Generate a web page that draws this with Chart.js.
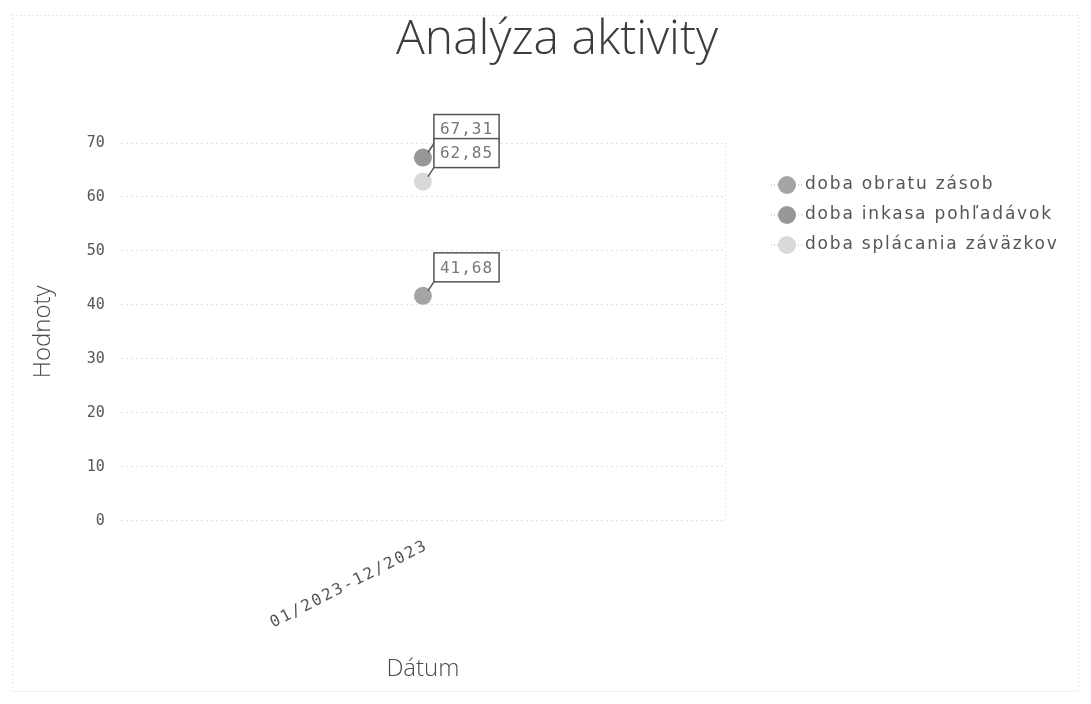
<!DOCTYPE html>
<html>
<head>
<meta charset="utf-8">
<title>Analýza aktivity</title>
<script src="https://cdn.jsdelivr.net/npm/chart.js@4.4.0/dist/chart.umd.min.js"></script>
<style>
    body { margin: 0; background: #fff; }
    #wrap { width: 1091px; height: 704px; }
</style>
</head>
<body>
<div id="wrap"><canvas id="activityChart" width="1091" height="704"></canvas></div>
<script>
// Data
const categories = ['01/2023-12/2023'];
const seriesNames = ['doba obratu zásob', 'doba inkasa pohľadávok', 'doba splácania záväzkov'];
const obratZasob = [41.68];
const inkasoPohladavok = [67.31];
const splacanieZavazkov = [62.85];
const yTicks = [0, 10, 20, 30, 40, 50, 60, 70];

const seriesColors = ['#a4a4a4', '#979797', '#d9d9d9'];
const textColor = '#4a4a4a';
const xTickAngle = 27;

function fmt(v) {
    return v.toFixed(2).replace('.', ',');
}

// Page frame, title, legend and the spaced-out category label
const framePlugin = {
    id: 'framePlugin',
    beforeDraw(chart) {
        const ctx = chart.ctx;
        ctx.save();
        ctx.fillStyle = '#fff';
        ctx.fillRect(0, 0, chart.width, chart.height);
        ctx.restore();
    },
    afterDraw(chart) {
        const ctx = chart.ctx;
        const area = chart.chartArea;
        ctx.save();

        // outer dotted frame
        ctx.strokeStyle = '#cfcfcf';
        ctx.setLineDash([1, 3]);
        ctx.lineWidth = 1;
        ctx.strokeRect(12.5, 15.5, 1066, 676);

        // right edge of plot area
        ctx.strokeStyle = '#dedede';
        ctx.beginPath();
        ctx.moveTo(area.right + 0.5, area.top);
        ctx.lineTo(area.right + 0.5, area.bottom);
        ctx.stroke();
        ctx.setLineDash([]);

        // title
        ctx.fillStyle = '#3c3c3c';
        ctx.font = '300 48px "Open Sans"';
        ctx.textAlign = 'center';
        ctx.textBaseline = 'middle';
        ctx.fillText('Analýza aktivity', 557, 40);

        // category labels, rotated
        const xs = chart.scales.x;
        ctx.font = '16px "DejaVu Sans Mono"';
        ctx.letterSpacing = '2px';
        ctx.fillStyle = '#555';
        ctx.textAlign = 'right';
        ctx.textBaseline = 'middle';
        categories.forEach((c, i) => {
            ctx.save();
            ctx.translate(xs.getPixelForTick(i) + 4, area.bottom + 24);
            ctx.rotate(-xTickAngle * Math.PI / 180);
            ctx.fillText(c, 0, 0);
            ctx.restore();
        });

        // legend
        ctx.textAlign = 'left';
        ctx.font = '17px "DejaVu Sans"';
        ctx.letterSpacing = '1.8px';
        seriesNames.forEach((name, i) => {
            const y = 185 + i * 30;
            const cx = 787;
            ctx.strokeStyle = '#b0b0b0';
            ctx.lineWidth = 1;
            ctx.setLineDash([1, 2]);
            ctx.beginPath();
            ctx.moveTo(cx - 16, y);
            ctx.lineTo(cx + 16, y);
            ctx.stroke();
            ctx.setLineDash([]);
            ctx.fillStyle = seriesColors[i];
            ctx.beginPath();
            ctx.arc(cx, y, 9, 0, Math.PI * 2);
            ctx.fill();
            ctx.fillStyle = '#555';
            ctx.fillText(name, 805, y);
        });
        ctx.restore();
    }
};

// Boxed value labels with a short leader line
const valueLabels = {
    id: 'valueLabels',
    afterDatasetsDraw(chart) {
        const ctx = chart.ctx;
        ctx.save();
        ctx.font = '16px "DejaVu Sans Mono"';
        ctx.letterSpacing = '1px';
        ctx.textBaseline = 'middle';
        ctx.textAlign = 'left';
        chart.data.datasets.forEach((ds, di) => {
            const meta = chart.getDatasetMeta(di);
            meta.data.forEach((pt, i) => {
                const text = fmt(ds.data[i]);
                const w = ctx.measureText(text).width + 12;
                const h = 29;
                const bx = pt.x + 11;
                const by = pt.y - 14 - h;
                ctx.strokeStyle = '#555';
                ctx.lineWidth = 1.5;
                ctx.beginPath();
                ctx.moveTo(pt.x + 5, pt.y - 5);
                ctx.lineTo(bx, by + h);
                ctx.stroke();
                ctx.fillStyle = '#fff';
                ctx.fillRect(bx, by, w, h);
                ctx.strokeRect(bx, by, w, h);
                ctx.fillStyle = '#777';
                ctx.fillText(text, bx + 6, by + h / 2 + 1);
            });
        });
        ctx.restore();
    }
};

const ctx = document.getElementById('activityChart');
new Chart(ctx, {
    type: 'line',
    data: {
        labels: categories,
        datasets: [
            { label: seriesNames[0], data: obratZasob, backgroundColor: seriesColors[0], borderColor: seriesColors[0] },
            { label: seriesNames[1], data: inkasoPohladavok, backgroundColor: seriesColors[1], borderColor: seriesColors[1] },
            { label: seriesNames[2], data: splacanieZavazkov, backgroundColor: seriesColors[2], borderColor: seriesColors[2] }
        ].map(ds => Object.assign(ds, {
            showLine: false,
            pointRadius: 9,
            pointHoverRadius: 9,
            pointBorderWidth: 0
        }))
    },
    options: {
        responsive: false,
        animation: false,
        layout: {
            padding: { top: 143, right: 366, bottom: 16, left: 25 }
        },
        plugins: {
            legend: { display: false },
            title: { display: false },
            tooltip: { enabled: false }
        },
        scales: {
            x: {
                offset: true,
                grid: { display: false },
                border: { display: false },
                ticks: {
                    // drawn by framePlugin with letter spacing; kept here to reserve room
                    color: 'rgba(0,0,0,0)',
                    font: { family: 'DejaVu Sans Mono', size: 14 },
                    minRotation: xTickAngle,
                    maxRotation: xTickAngle,
                    padding: 10
                },
                title: {
                    display: true,
                    text: 'Dátum',
                    color: textColor,
                    font: { family: 'Open Sans', size: 24, weight: '300' },
                    padding: { top: 34 }
                }
            },
            y: {
                min: yTicks[0],
                max: yTicks[yTicks.length - 1],
                afterBuildTicks: axis => {
                    axis.ticks = yTicks.map(v => ({ value: v }));
                },
                grid: {
                    color: '#e2e2e2',
                    drawTicks: false
                },
                border: { display: false, dash: [2, 3] },
                ticks: {
                    color: '#555',
                    font: { family: 'DejaVu Sans Mono', size: 15 },
                    padding: 16
                },
                title: {
                    display: true,
                    text: 'Hodnoty',
                    color: textColor,
                    font: { family: 'Open Sans', size: 24, weight: '300' },
                    padding: { bottom: 13 }
                }
            }
        }
    },
    plugins: [framePlugin, valueLabels]
});
</script>
</body>
</html>
